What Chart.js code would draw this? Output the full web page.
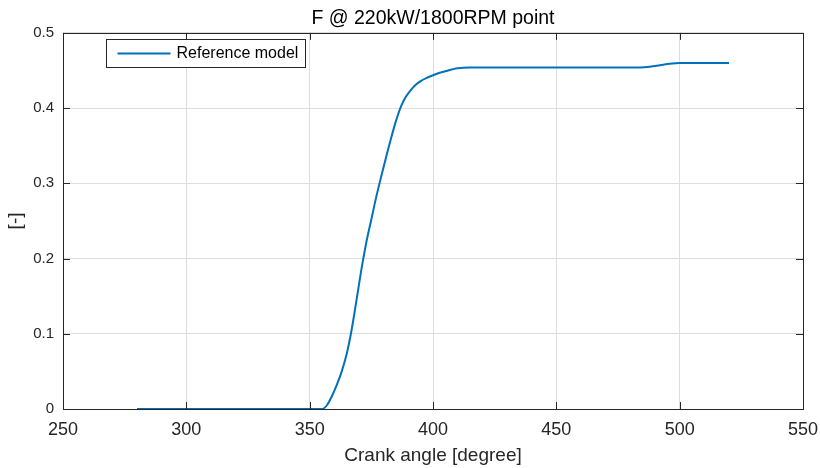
<!DOCTYPE html>
<html>
<head>
<meta charset="utf-8">
<script src="https://cdn.jsdelivr.net/npm/chart.js@4.4.1/dist/chart.umd.min.js"></script>
<style>
  html, body { margin: 0; padding: 0; background: #fff; }
  #wrap { width: 820px; height: 468px; }
</style>
</head>
<body>
<div id="wrap"><canvas id="fChart" width="820" height="468"></canvas></div>
<script>
// crank angle [degree] / F [-]
const crankAngles = [280, 300, 320, 340, 355, 357, 359, 361, 363, 365, 367, 369, 371, 373, 375, 377,
    379, 381, 383, 385, 387, 389, 391, 393, 395, 398, 401, 405, 410, 415, 420, 450, 484, 488, 492,
    496, 500, 505, 520];
const fValues = [0, 0, 0, 0, 0, 0.005, 0.017, 0.032, 0.05, 0.073, 0.105, 0.145, 0.186, 0.222, 0.252,
    0.282, 0.309, 0.335, 0.36, 0.383, 0.402, 0.415, 0.424, 0.431, 0.436, 0.441, 0.445, 0.449, 0.453,
    0.454, 0.454, 0.454, 0.454, 0.455, 0.457, 0.459, 0.46, 0.46, 0.46];
const xTicks = [250, 300, 350, 400, 450, 500, 550];
const yTicks = [0, 0.1, 0.2, 0.3, 0.4, 0.5];
const seriesName = 'Reference model';

const FONT = "'Liberation Sans', Arial, Helvetica, sans-serif";
const LINE_COLOR = '#0072BD';
const AXIS_COLOR = '#262626';

// MATLAB-style box, inward ticks and boxed legend
const matlabFrame = {
    id: 'matlabFrame',
    afterDraw(chart) {
        const { ctx, chartArea: a, scales } = chart;
        ctx.save();
        ctx.strokeStyle = AXIS_COLOR;
        ctx.lineWidth = 1;
        ctx.strokeRect(Math.round(a.left) + 0.5, Math.round(a.top) + 0.5,
            Math.round(a.right - a.left), Math.round(a.bottom - a.top));
        const tl = 7;
        ctx.beginPath();
        xTicks.forEach(v => {
            const px = Math.round(scales.x.getPixelForValue(v)) + 0.5;
            ctx.moveTo(px, a.bottom); ctx.lineTo(px, a.bottom - tl);
            ctx.moveTo(px, a.top); ctx.lineTo(px, a.top + tl);
        });
        yTicks.forEach(v => {
            const py = Math.round(scales.y.getPixelForValue(v)) + 0.5;
            ctx.moveTo(a.left, py); ctx.lineTo(a.left + tl, py);
            ctx.moveTo(a.right, py); ctx.lineTo(a.right - tl, py);
        });
        ctx.stroke();

        // legend
        const lx = Math.round(a.left) + 43.5, ly = Math.round(a.top) + 6.5;
        ctx.fillStyle = '#fff';
        ctx.fillRect(lx, ly, 199, 28);
        ctx.strokeStyle = AXIS_COLOR;
        ctx.strokeRect(lx, ly, 199, 28);
        ctx.strokeStyle = LINE_COLOR;
        ctx.lineWidth = 2;
        ctx.beginPath();
        ctx.moveTo(lx + 11, ly + 14); ctx.lineTo(lx + 64, ly + 14);
        ctx.stroke();
        ctx.fillStyle = '#000';
        ctx.font = '16px ' + FONT;
        ctx.textBaseline = 'middle';
        ctx.fillText(seriesName, lx + 70, ly + 14.5);
        ctx.restore();
    }
};

new Chart(document.getElementById('fChart'), {
    type: 'line',
    data: {
        datasets: [{
            label: seriesName,
            data: crankAngles.map((x, i) => ({ x, y: fValues[i] })),
            borderColor: LINE_COLOR,
            borderWidth: 2,
            pointRadius: 0,
            cubicInterpolationMode: 'monotone',
            fill: false
        }]
    },
    options: {
        responsive: false,
        animation: false,
        layout: { padding: { left: 0, right: 17, top: 0, bottom: 0 } },
        plugins: {
            legend: { display: false },
            tooltip: { enabled: false },
            title: {
                display: true,
                text: 'F @ 220kW/1800RPM point',
                fullSize: false,
                color: '#000',
                font: { family: FONT, size: 19.5, weight: 'normal' },
                padding: { top: 7, bottom: 2.5 }
            }
        },
        scales: {
            x: {
                type: 'linear',
                min: 250, max: 550,
                afterBuildTicks: s => { s.ticks = xTicks.map(v => ({ value: v })); },
                afterFit: s => { s.height = 59; s.paddingLeft = 0; s.paddingRight = 0; },
                grid: { color: '#dedede', drawTicks: false },
                border: { display: false },
                ticks: { color: '#262626', font: { family: FONT, size: 18 }, padding: 10, maxRotation: 0 },
                title: {
                    display: true, text: 'Crank angle [degree]', color: '#262626',
                    font: { family: FONT, size: 19 }, padding: { top: 0, bottom: 0.5 }
                }
            },
            y: {
                min: 0, max: 0.5,
                afterBuildTicks: s => { s.ticks = yTicks.map(v => ({ value: v })); },
                afterFit: s => { s.width = 63; s.paddingTop = 0; s.paddingBottom = 0; },
                grid: { color: '#dedede', drawTicks: false },
                border: { display: false },
                ticks: { color: '#262626', font: { family: FONT, size: 15 }, padding: 9,
                    callback: v => String(v) },
                title: {
                    display: true, text: '[-]', color: '#262626',
                    font: { family: FONT, size: 19 }, padding: { top: 4, bottom: 0 }
                }
            }
        }
    },
    plugins: [matlabFrame]
});
</script>
</body>
</html>
